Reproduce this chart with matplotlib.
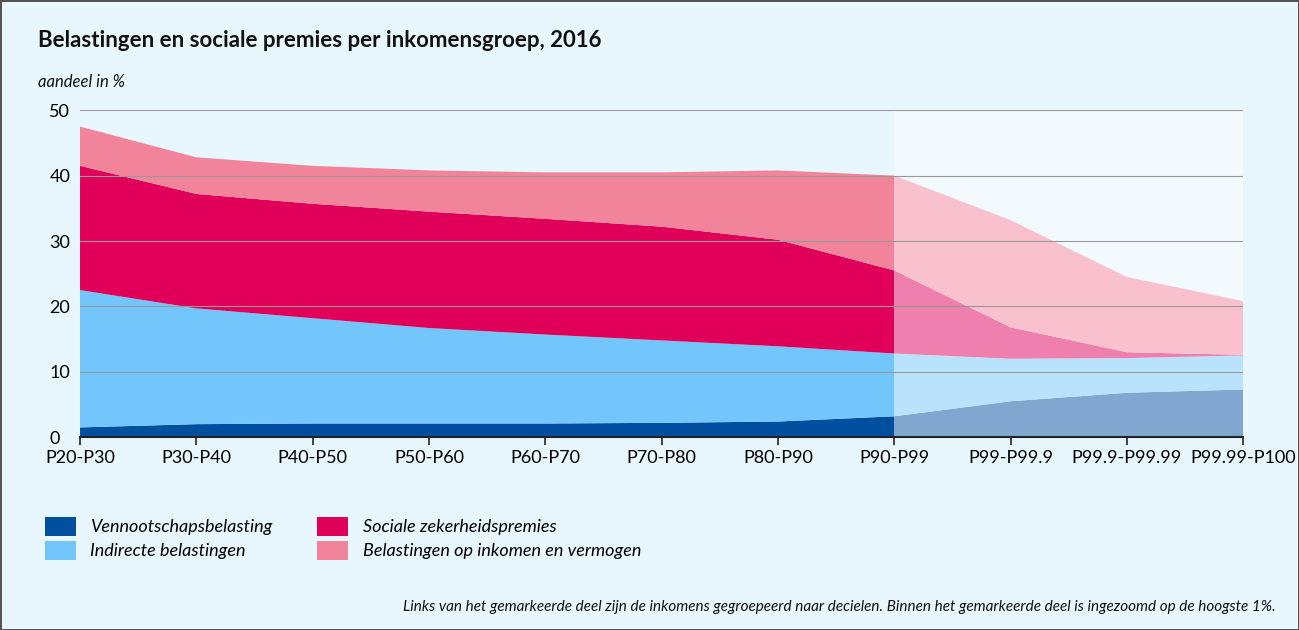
import matplotlib.pyplot as plt
import numpy as np
from matplotlib.patches import Patch

plt.rcParams['font.family'] = ['Lato', 'DejaVu Sans']

categories = ['P20-P30', 'P30-P40', 'P40-P50', 'P50-P60', 'P60-P70', 'P70-P80',
              'P80-P90', 'P90-P99', 'P99-P99.9', 'P99.9-P99.99', 'P99.99-P100']
vennootschap = [1.5, 2.0, 2.1, 2.1, 2.1, 2.2, 2.4, 3.2, 5.5, 6.8, 7.3]
indirect = [21.0, 17.7, 16.1, 14.6, 13.6, 12.6, 11.5, 9.6, 6.5, 5.3, 5.2]
sociaal = [19.0, 17.5, 17.5, 17.8, 17.7, 17.4, 16.3, 12.7, 4.8, 0.9, 0.1]
inkomen = [6.0, 5.6, 5.8, 6.3, 7.1, 8.3, 10.6, 14.5, 16.4, 11.5, 8.2]
yticks = [0, 10, 20, 30, 40, 50]

colors = ['#01509f', '#73c6fc', '#e0005a', '#f1849b']
labels = ['Vennootschapsbelasting', 'Indirecte belastingen',
          'Sociale zekerheidspremies', 'Belastingen op inkomen en vermogen']

bg = '#e8f6fd'
fig = plt.figure(figsize=(12.99, 6.3), dpi=100, facecolor=bg)
fig.patch.set_edgecolor('#555555')
fig.patch.set_linewidth(2)
ax = fig.add_axes([0.0616, 0.306, 0.8955, 0.519])
ax.set_facecolor(bg)

x = np.arange(len(categories))
ax.stackplot(x, vennootschap, indirect, sociaal, inkomen, colors=colors, zorder=1)
ax.axvspan(7, 10, color='white', alpha=0.5, lw=0, zorder=2)

ax.set_xlim(0, 10)
ax.set_ylim(0, 50)
ax.set_yticks(yticks)
ax.yaxis.grid(True, color='#999999', lw=0.8, zorder=3)
ax.set_axisbelow(False)
ax.tick_params(axis='y', length=0, labelsize=13, pad=22)
for t in ax.get_yticklabels():
    t.set_horizontalalignment('left')
ax.set_xticks(x)
ax.set_xticklabels(categories, fontsize=13)
ax.tick_params(axis='x', length=6, width=1.2, color='#222222', labelsize=13)
for s in ['top', 'right', 'left']:
    ax.spines[s].set_visible(False)
ax.spines['bottom'].set_color('#222222')
ax.spines['bottom'].set_linewidth(1.5)
ax.spines['bottom'].set_zorder(4)

fig.text(0.029, 0.925, 'Belastingen en sociale premies per inkomensgroep, 2016',
         fontsize=16, fontweight='bold', color='#111111')
fig.text(0.029, 0.862, 'aandeel in %', fontsize=12, style='italic', color='#111111')

handles = [Patch(facecolor=c, label=l) for c, l in zip(colors, labels)]
fig.legend(handles=handles, ncol=2, loc='upper left', bbox_to_anchor=(0.022, 0.205),
           frameon=False, fontsize=13, handlelength=1.7, handleheight=1.2,
           columnspacing=2.5, labelspacing=0.3, prop={'style': 'italic', 'size': 13})

fig.text(0.982, 0.03, 'Links van het gemarkeerde deel zijn de inkomens gegroepeerd naar decielen. '
         'Binnen het gemarkeerde deel is ingezoomd op de hoogste 1%.',
         fontsize=11, style='italic', ha='right', color='#111111')

fig.savefig('out.png', dpi=100, facecolor=bg, edgecolor='#555555')
